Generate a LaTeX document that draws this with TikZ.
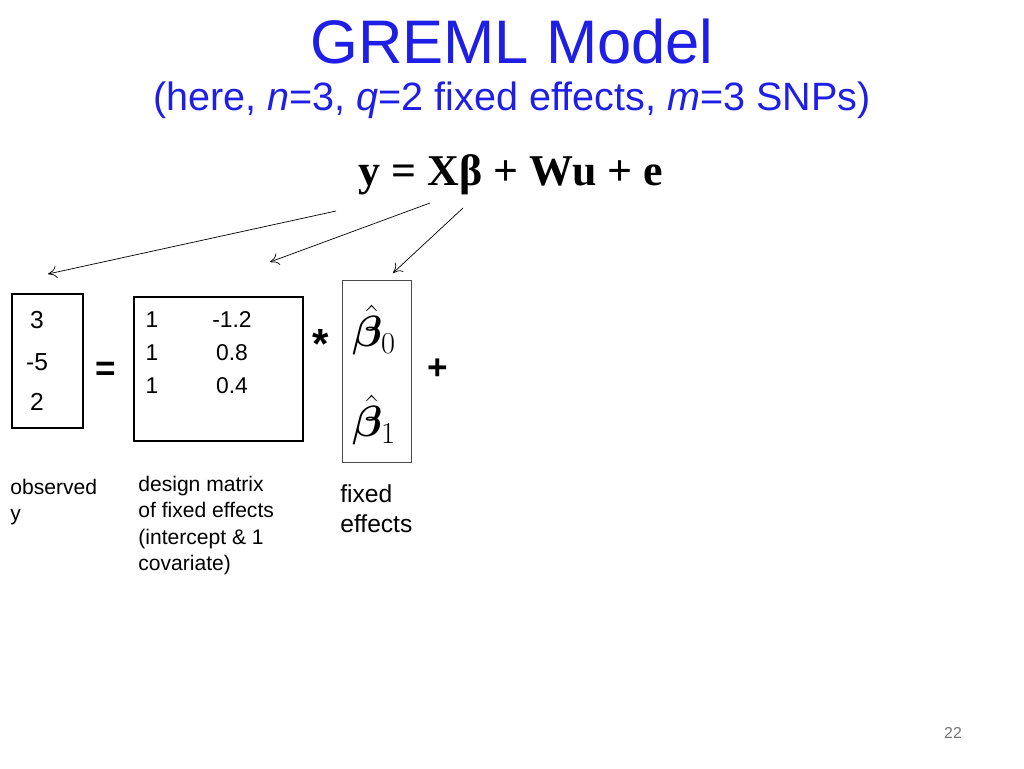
\documentclass[tikz,border=0pt]{standalone}
\usepackage{amsmath, bm}
\usepackage{fontspec}
\setmainfont{Liberation Sans}
\newfontfamily\eqfont{Liberation Serif}
\usepackage{tikz}
\usetikzlibrary{positioning}
\usetikzlibrary{arrows.meta}
\definecolor{titleblue}{RGB}{30,30,230}
\tikzset{
	matbox/.style={rectangle, draw=black, very thick, anchor=north west, inner sep=0pt},
	entry/.style={font=\fontsize{14}{16}\selectfont},
	lbl/.style={align=left, anchor=north west, inner sep=0pt, font=\fontsize{12}{15}\selectfont},
	pointer/.style={-{To[length=5pt,width=7pt]}, thin}
}
\begin{document}
\begin{tikzpicture}[x=0.02cm, y=-0.02cm]
		\useasboundingbox (0,0) rectangle (1024,768);
		\node[text=titleblue, font=\fontsize{35}{38}\selectfont] at (512,42) (title) {GREML Model};
		\node[text=titleblue, font=\fontsize{22.5}{26}\selectfont] at (512,100) (sub) {(here, \textit{n}=3, \textit{q}=2 fixed effects, \textit{m}=3 SNPs)};
		\node[font=\eqfont\bfseries\fontsize{25}{28}\selectfont] at (511,175) (eq) {y = Xβ + Wu + e};
		
		\node[matbox, minimum width=71*0.02cm, minimum height=134*0.02cm] at (11,293) (ybox) {};
		\node[matbox, minimum width=169*0.02cm, minimum height=144*0.02cm] at (133,296) (xbox) {};
		\node[matbox, draw=black!70, thick, minimum width=69*0.02cm, minimum height=182*0.02cm] at (342,280) (bbox) {};
		
		\coordinate (ya) at (336,211);
		\coordinate (xa) at (430,203);
		\coordinate (ba) at (463,208);
		\draw[pointer] (ya) -- (48,274);
		\draw[pointer] (xa) -- (270,262);
		\draw[pointer] (ba) -- (393,273);
		
		\node[entry] at (37,320) (y1) {3};
		\node[entry] at (37,362) (y2) {-5};
		\node[entry] at (37,402) (y3) {2};
		\node[font=\bfseries\fontsize{20}{22}\selectfont] at (106,371) (eqs) {=};
		\foreach \v [count=\i] in {-1.2, 0.8, 0.4} {
			\node[entry, font=\fontsize{13}{15}\selectfont] at (152,287+33*\i) (one\i) {1};
			\node[entry, font=\fontsize{13}{15}\selectfont] at (232,287+33*\i) (cov\i) {\v};
		}
		\node[font=\bfseries\fontsize{24}{26}\selectfont] at (321,344) (star) {*};
		\node[font=\fontsize{24}{28}\selectfont] at (374,330) (b0) {$\bm{\hat{\beta}}_0$};
		\node[font=\fontsize{24}{28}\selectfont] at (374,420) (b1) {$\bm{\hat{\beta}}_1$};
		\node[font=\bfseries\fontsize{20}{22}\selectfont] at (438,369) (plus) {+};
		
		\node[lbl] at (10,479) (yt) {observed\\y};
		\node[lbl] at (138,476) (xt) {design matrix\\of fixed effects\\(intercept \& 1\\covariate)};
		\node[lbl, font=\fontsize{14}{17}\selectfont] at (340,484) (bt) {fixed\\effects};
		\node[text=black!55, font=\fontsize{9}{11}\selectfont] at (953,733) (pg) {22};
	\end{tikzpicture}
\end{document}
